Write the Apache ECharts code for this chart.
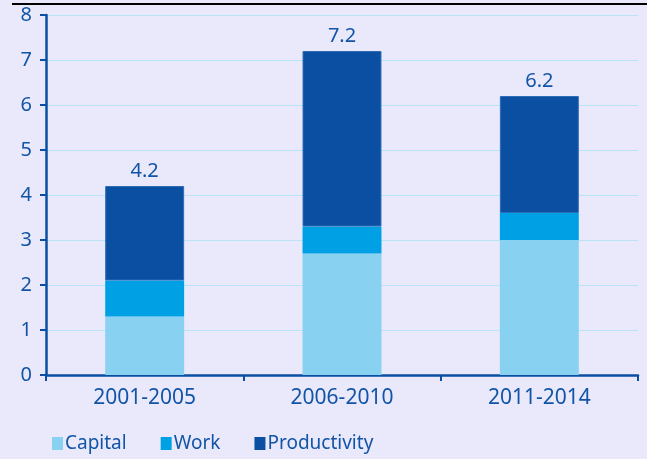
<!DOCTYPE html>
<html>
<head>
<meta charset="utf-8">
<style>
  html, body { margin: 0; padding: 0; background: #e9e9fb; }
  #chart { width: 647px; height: 459px; }
</style>
<script src="https://cdn.jsdelivr.net/npm/echarts@6/dist/echarts.min.js"></script>
</head>
<body>
<div id="chart"></div>
<script>
// Growth contributions by period (percentage points)
const categories = ['2001-2005', '2006-2010', '2011-2014'];
const capital = [1.3, 2.7, 3.0];
const work = [0.8, 0.6, 0.6];
const productivity = [2.1, 3.9, 2.6];
const yTicks = [0, 1, 2, 3, 4, 5, 6, 7, 8];

const totals = categories.map((_, i) =>
  Math.round((capital[i] + work[i] + productivity[i]) * 10) / 10);

const textColor = '#1254a6';
const axisColor = '#0b4fa3';
const fontFamily = '"Noto Sans", "Open Sans", sans-serif';

const chart = echarts.init(document.getElementById('chart'));

chart.setOption({
  backgroundColor: '#e9e9fb',
  textStyle: { fontFamily: fontFamily },
  graphic: [{
    type: 'rect',
    shape: { x: 12, y: 3, width: 640, height: 2 },
    style: { fill: '#000' },
    silent: true
  }],
  grid: { left: 46, right: 9, top: 15, bottom: 84, containLabel: false },
  legend: {
    left: 47,
    top: 429,
    itemWidth: 11,
    itemHeight: 13,
    itemGap: 34,
    icon: 'rect',
    itemStyle: { borderWidth: 0 },
    textStyle: { color: textColor, fontSize: 19, fontFamily: fontFamily, padding: [0, 0, 0, -3] },
    data: ['Capital', 'Work', 'Productivity']
  },
  xAxis: {
    type: 'category',
    data: categories,
    axisLine: { lineStyle: { color: axisColor, width: 2.5 } },
    axisTick: { show: true, length: 6, lineStyle: { color: axisColor, width: 2 } },
    axisLabel: { color: textColor, fontSize: 21, margin: 13, fontFamily: fontFamily }
  },
  yAxis: {
    type: 'value',
    min: yTicks[0],
    max: yTicks[yTicks.length - 1],
    interval: 1,
    axisLine: { show: true, lineStyle: { color: axisColor, width: 2.5 } },
    axisTick: { show: true, length: 6, lineStyle: { color: axisColor, width: 2 } },
    axisLabel: { color: textColor, fontSize: 20, margin: 14, fontFamily: fontFamily },
    splitLine: { show: true, lineStyle: { color: '#b9e3f7', width: 1 } }
  },
  series: [
    {
      name: 'Capital', type: 'bar', stack: 'g', barWidth: '40%',
      itemStyle: { color: '#88d1f1' },
      data: capital
    },
    {
      name: 'Work', type: 'bar', stack: 'g',
      itemStyle: { color: '#00a1e4' },
      data: work
    },
    {
      name: 'Productivity', type: 'bar', stack: 'g',
      itemStyle: { color: '#0a4fa1', borderColor: '#2e6bb6', borderWidth: 1 },
      label: {
        show: true,
        position: 'top',
        distance: 5,
        color: textColor,
        fontSize: 20,
        fontFamily: fontFamily,
        formatter: p => totals[p.dataIndex].toFixed(1)
      },
      data: productivity
    }
  ]
});
</script>
</body>
</html>
